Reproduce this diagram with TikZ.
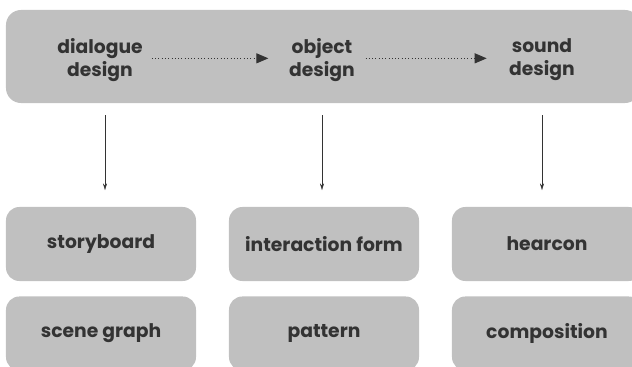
\documentclass[tikz,border=0pt]{standalone}
\usepackage{fontspec}
\setmainfont{Poppins}
\usetikzlibrary{arrows.meta,positioning}
\definecolor{boxgray}{HTML}{C0C0C0}
\definecolor{inkgray}{HTML}{333333}

\begin{document}
\begin{tikzpicture}[x=0.03cm,y=-0.03cm]
\tikzset{
  panel/.style={rectangle, rounded corners=0.4cm, fill=boxgray, minimum width=5.7cm, minimum height=2.22cm},
  label/.style={text=inkgray, font=\bfseries\fontsize{16}{19.5}\selectfont, align=center},
  flow/.style={inkgray, dotted, thick, -{Triangle[length=0.36cm, width=0.3cm]}},
  down/.style={inkgray, -{Stealth[length=0.2cm, width=0.12cm]}}
}
\useasboundingbox (0,0) rectangle (632,367);
\clip (0,0) rectangle (632,367);

% design stages
\node[rectangle, rounded corners=0.45cm, fill=boxgray, minimum width=19.02cm, minimum height=2.79cm] (bar) at (323,56.5) {};
\node[label] (dlg) at (100,60) {dialogue\\design};
\node[label] (obj) at (322,60) {object\\design};
\node[label] (snd) at (542,60) {sound\\design};
\draw[flow] ([xshift=0.15cm, yshift=0.05cm]dlg.east) -- ([xshift=-0.5cm, yshift=0.05cm]obj.west);
\draw[flow] ([xshift=0.2cm, yshift=0.05cm]obj.east) -- ([xshift=-0.55cm, yshift=0.05cm]snd.west);

% first row
\node[panel] (sb) at (101,244) {};
\node[label] at (sb) {storyboard};
\node[panel] (itf) at (324,244) {};
\node[label] at (itf) {interaction form};
\node[panel] (hc) at (547,244) {};
\node[label] at (hc) {hearcon};

% second row
\node[panel, below=0.45cm of sb] (sg) {};
\node[label] at (sg) {scene graph};
\node[panel, below=0.45cm of itf] (pt) {};
\node[label] at (pt) {pattern};
\node[panel, below=0.45cm of hc] (cp) {};
\node[label] at (cp) {composition};

% links down
\draw[down, shorten <=0.36cm, shorten >=0.5cm] ([xshift=0.15cm]dlg |- bar.south) -- ([xshift=0.15cm]dlg |- sb.north);
\draw[down, shorten <=0.36cm, shorten >=0.5cm] (obj |- bar.south) -- (obj |- itf.north);
\draw[down, shorten <=0.36cm, shorten >=0.5cm] (snd |- bar.south) -- (snd |- hc.north);
\end{tikzpicture}
\end{document}
